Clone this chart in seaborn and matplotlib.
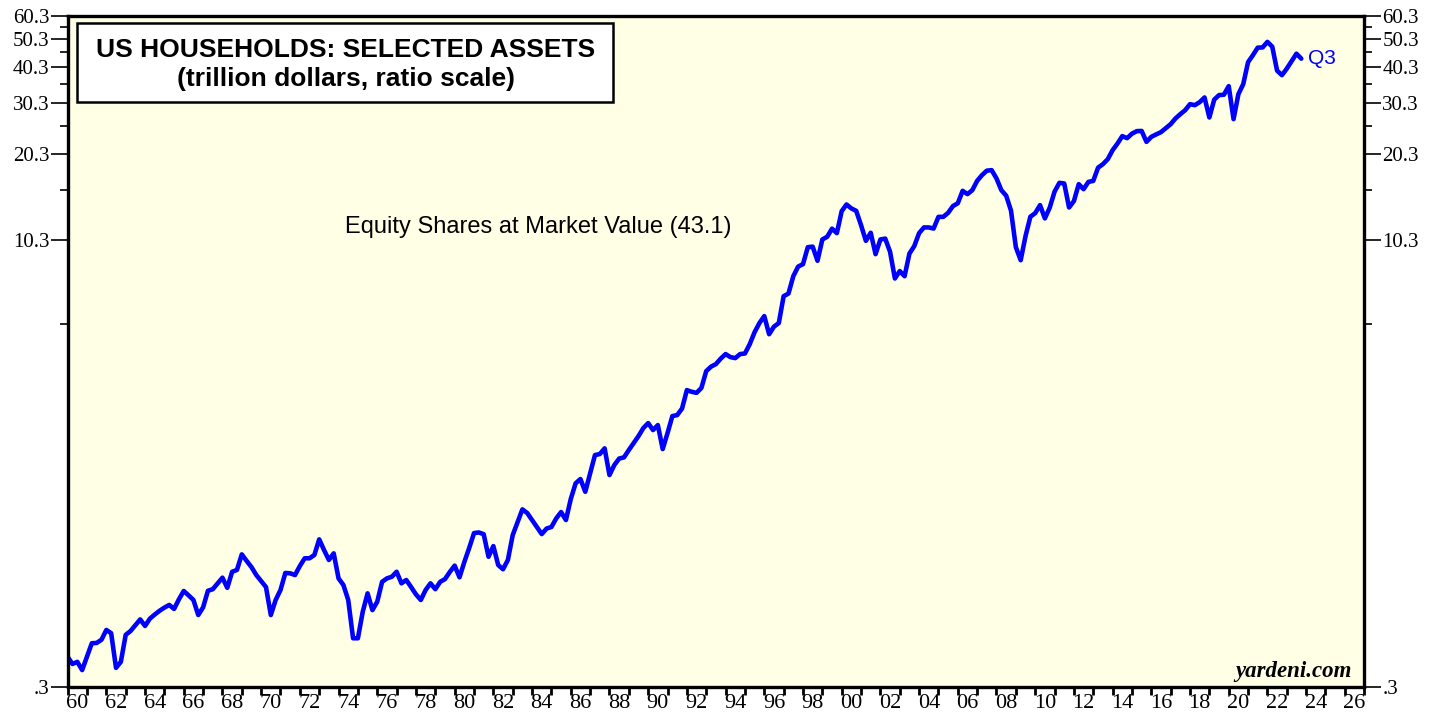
import pandas as pd
import seaborn as sns
import matplotlib.pyplot as plt
from matplotlib.patches import Rectangle
from matplotlib.ticker import FixedLocator, NullFormatter

# Household equity shares at market value, trillion dollars, quarterly 1959Q4-2023Q3
quarters = pd.period_range("1959Q4", "2023Q3", freq="Q")
equity_shares = [
    0.381,
    0.360, 0.366, 0.343, 0.381,   # 1960
    0.424, 0.425, 0.436, 0.471,   # 1961
    0.459, 0.349, 0.366, 0.453,   # 1962
    0.467, 0.489, 0.512, 0.486,   # 1963
    0.515, 0.532, 0.548, 0.562,   # 1964
    0.574, 0.556, 0.600, 0.641,   # 1965
    0.619, 0.597, 0.530, 0.563,   # 1966
    0.642, 0.650, 0.680, 0.712,   # 1967
    0.657, 0.746, 0.757, 0.856,   # 1968
    0.813, 0.774, 0.727, 0.693,   # 1969
    0.661, 0.530, 0.597, 0.646,   # 1970
    0.739, 0.737, 0.727, 0.781,   # 1971
    0.830, 0.830, 0.852, 0.964,   # 1972
    0.886, 0.819, 0.863, 0.708,   # 1973
    0.672, 0.597, 0.441, 0.441,   # 1974
    0.544, 0.629, 0.551, 0.589,   # 1975
    0.689, 0.708, 0.717, 0.746,   # 1976
    0.681, 0.699, 0.661, 0.624,   # 1977
    0.597, 0.646, 0.681, 0.650,   # 1978
    0.689, 0.704, 0.745, 0.783,   # 1979
    0.714, 0.806, 0.900, 1.013,   # 1980
    1.018, 1.004, 0.840, 0.914,   # 1981
    0.787, 0.761, 0.819, 0.997,   # 1982
    1.105, 1.222, 1.187, 1.123,   # 1983
    1.063, 1.005, 1.050, 1.063,   # 1984
    1.138, 1.196, 1.123, 1.326,   # 1985
    1.501, 1.553, 1.404, 1.624,   # 1986
    1.877, 1.892, 1.979, 1.603,   # 1987
    1.734, 1.826, 1.843, 1.953,   # 1988
    2.064, 2.181, 2.323, 2.417,   # 1989
    2.287, 2.379, 1.968, 2.233,   # 1990
    2.554, 2.575, 2.711, 3.137,   # 1991
    3.095, 3.070, 3.190, 3.645,   # 1992
    3.777, 3.853, 4.024, 4.170,   # 1993
    4.072, 4.040, 4.170, 4.190,   # 1994
    4.513, 4.960, 5.330, 5.630,   # 1995
    4.880, 5.180, 5.330, 6.590,   # 1996
    6.730, 7.720, 8.330, 8.490,   # 1997
    9.710, 9.750, 8.720, 10.32,   # 1998
    10.54, 11.24, 10.85, 12.91,   # 1999
    13.61, 13.19, 12.94, 11.56,   # 2000
    10.21, 10.88, 9.19, 10.32,    # 2001
    10.39, 9.36, 7.58, 8.04,      # 2002
    7.72, 9.23, 9.79, 10.85,      # 2003
    11.35, 11.35, 11.25, 12.34,   # 2004
    12.34, 12.74, 13.44, 13.74,   # 2005
    15.16, 14.77, 15.24, 16.40,   # 2006
    17.16, 17.78, 17.85, 16.72,   # 2007
    15.24, 14.59, 12.96, 9.71,    # 2008
    8.76, 10.60, 12.35, 12.71,    # 2009
    13.54, 12.19, 13.27, 15.06,   # 2010
    16.15, 16.07, 13.29, 13.98,   # 2011
    15.98, 15.36, 16.27, 16.40,   # 2012
    18.21, 18.72, 19.47, 20.91,   # 2013
    22.02, 23.36, 22.99, 23.82,   # 2014
    24.30, 24.34, 22.33, 23.23,   # 2015
    23.68, 24.11, 24.89, 25.68,   # 2016
    26.87, 27.80, 28.68, 30.08,   # 2017
    29.84, 30.56, 31.71, 27.08,   # 2018
    31.17, 32.31, 32.40, 34.69,   # 2019
    26.72, 32.55, 35.23, 41.92,   # 2020
    44.31, 47.02, 47.10, 49.21,   # 2021
    47.39, 39.20, 37.83, 39.82,   # 2022
    42.26, 44.83, 43.10,          # 2023
]

y_ticks = [0.3, 10.3, 20.3, 30.3, 40.3, 50.3, 60.3]
y_tick_labels = [".3", "10.3", "20.3", "30.3", "40.3", "50.3", "60.3"]
y_minor_ticks = [5.3, 15.3, 25.3, 35.3, 45.3, 55.3]
year_labels = list(range(1960, 2027, 2))

df = pd.DataFrame({
    "year": [p.year + p.quarter / 4 for p in quarters],
    "value": equity_shares,
})

sns.set_style("ticks")
plt.rcParams["font.family"] = ["Liberation Sans", "DejaVu Sans"]
plt.rcParams["text.color"] = "black"
plt.rcParams["xtick.color"] = "black"
plt.rcParams["ytick.color"] = "black"
serif = ["Liberation Serif", "DejaVu Serif"]

fig = plt.figure(figsize=(14.39, 7.19), dpi=100)
ax = fig.add_axes([0.047, 0.0445, 0.901, 0.933])
ax.set_facecolor("#FFFFE6")

sns.lineplot(data=df, x="year", y="value", color="#0000FF", linewidth=3.3, ax=ax)

ax.set_yscale("log")
ax.set_ylim(0.3, 60.3)
ax.set_xlim(1960, 2027)
ax.set_xlabel("")
ax.set_ylabel("")

# y axis, both sides
ax.yaxis.set_major_locator(FixedLocator(y_ticks))
ax.yaxis.set_minor_locator(FixedLocator(y_minor_ticks))
ax.yaxis.set_minor_formatter(NullFormatter())
ax.set_yticks(y_ticks, y_tick_labels, fontfamily=serif, fontsize=15)
ax.tick_params(axis="y", which="major", length=12, width=1.2, direction="out",
               left=True, right=True, labelleft=True, labelright=True, pad=1)
ax.tick_params(axis="y", which="minor", length=6, width=1.2, direction="out",
               left=True, right=True)

# x axis: a tick at each year, labels in the middle of even years
ax.set_xticks(range(1960, 2028), [""] * 68)
ax.set_xticks([y + 0.5 for y in year_labels], minor=True)
ax.set_xticklabels([f"{y % 100:02d}" for y in year_labels], minor=True,
                   fontfamily=serif, fontsize=16)
ax.tick_params(axis="x", which="major", length=6, width=2, direction="out")
ax.tick_params(axis="x", which="minor", length=0, pad=5)

for side in ["top", "bottom", "left", "right"]:
    ax.spines[side].set_visible(True)
    ax.spines[side].set_linewidth(2.4)
    ax.spines[side].set_color("black")

# title box
ax.add_patch(Rectangle((0.0071, 0.8718), 0.4135, 0.1178, transform=ax.transAxes,
                       facecolor="white", edgecolor="black", linewidth=1.8, zorder=5))
ax.text(0.2147, 0.950, "US HOUSEHOLDS: SELECTED ASSETS", transform=ax.transAxes,
        ha="center", va="center", fontsize=19, fontweight="bold", zorder=6)
ax.text(0.2147, 0.907, "(trillion dollars, ratio scale)", transform=ax.transAxes,
        ha="center", va="center", fontsize=19, fontweight="bold", zorder=6)

ax.text(0.3628, 0.6855, f"Equity Shares at Market Value ({equity_shares[-1]:.1f})",
        transform=ax.transAxes, ha="center", va="center", fontsize=17)

ax.annotate("Q3", xy=(df["year"].iloc[-1], df["value"].iloc[-1]), xytext=(5, 0),
            textcoords="offset points", ha="left", va="center",
            color="#0000FF", fontsize=15)

ax.text(0.9907, 0.0224, "yardeni.com", transform=ax.transAxes, ha="right", va="center",
        fontsize=16.5, fontweight="bold", fontstyle="italic", fontfamily=serif)

fig.savefig("out.png", dpi=100, facecolor="white")
